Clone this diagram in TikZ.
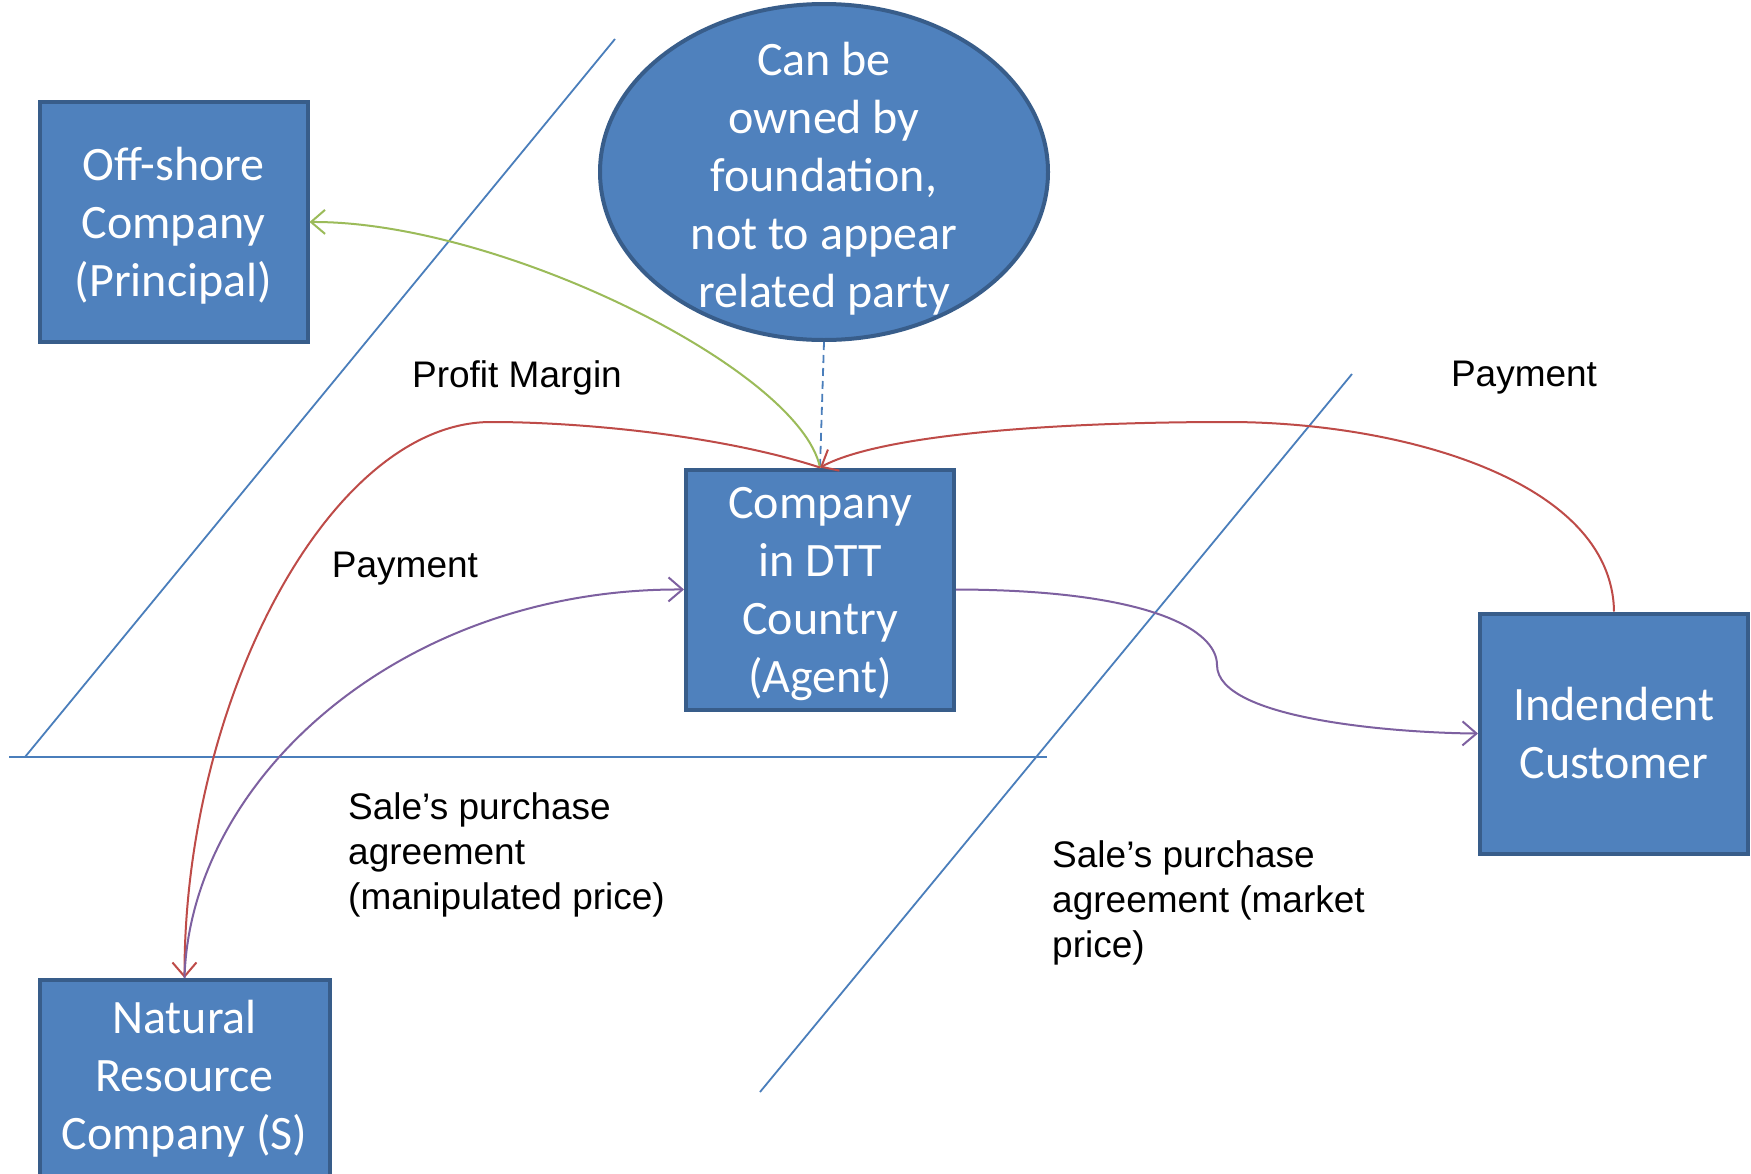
\documentclass[tikz,border=0pt]{standalone}
\usepackage{fontspec}
\setmainfont{Carlito}
\newfontfamily\labelfont{Liberation Sans}
\usepackage{tikz}
\usetikzlibrary{positioning,shapes.geometric,arrows.meta}
\definecolor{boxblue}{HTML}{4F81BD}
\definecolor{boxedge}{HTML}{385D8A}
\definecolor{lineblue}{HTML}{4A7EBB}
\definecolor{flowred}{HTML}{BE4B48}
\definecolor{flowpurple}{HTML}{7D60A0}
\definecolor{flowgreen}{HTML}{9BBB59}

\begin{document}
\begin{tikzpicture}[
    x=1pt, y=-1pt,
    party/.style={rectangle, draw=boxedge, line width=4pt, fill=boxblue, minimum width=268pt, minimum height=240pt, inner sep=0pt, align=center, text=white, font=\fontsize{48}{58}\selectfont},
    owner/.style={ellipse, draw=boxedge, line width=4pt, fill=boxblue, minimum width=448pt, minimum height=336pt, inner sep=0pt},
    ownertext/.style={inner sep=0pt, align=center, text=white, font=\fontsize{48}{58}\selectfont},
    note/.style={inner sep=0pt, align=left, font=\labelfont\fontsize{37}{45}\selectfont},
    border/.style={lineblue, line width=1.8pt},
    flow/.style={line width=2pt, -{Straight Barb[length=14pt,width=24pt]}}
]
\useasboundingbox[fill=white] (0,0) rectangle (1751,1173);

% Borders between the countries
\draw[border] (615,39) -- (25,757);
\draw[border] (9,757) -- (1047,757);
\draw[border] (1352,374) -- (760,1092);

% Parties
\node[owner, label={[ownertext, yshift=-7pt]center:{Can be\\owned by\\foundation,\\not to appear\\related party}}] (foundation) at (824,172) {};
\node[party, text depth=-4pt] (offshore) at (173.5,222) {Off-shore\\Company\\(Principal)};
\node[party, text depth=-5pt] (agent) at (820,589.5) {Company\\in DTT\\Country\\(Agent)};
\node[party] (customer) at (1614,733.5) {Indendent\\Customer};
\node[party, minimum width=290pt, minimum height=198pt] (resource) at (184.5,1079) {Natural\\Resource\\Company (S)};

% Labels
\node[note] (margin) at (517,378) {Profit Margin};
\node[note] (payright) at (1524,378) {Payment};
\node[note] (payleft) at (405,569) {Payment};
\node[note, anchor=west] (saleleft) at (348,855) {Sale’s purchase\\agreement\\(manipulated price)};
\node[note, anchor=west] (saleright) at (1052,903) {Sale’s purchase\\agreement (market\\price)};

% Flows
\draw[lineblue, line width=1.8pt, dash pattern=on 8pt off 5pt] (foundation.south) -- (agent.north);
\draw[flow, flowgreen] (agent.north) .. controls (800,370) and (500,221) .. (offshore.east);
\draw[flow, flowred] (customer.north) .. controls (1612,480) and (1400,422) .. (1228,422)
    .. controls (1050,422) and (880,435) .. (agent.north);
\draw[flow, flowred] (agent.north) .. controls (720,435) and (580,422) .. (491,422)
    .. controls (330,422) and (184,700) .. (resource.north);
\draw[flow, flowpurple] (resource.north) .. controls (190,780) and (400,588) .. (agent.west);
\draw[flow, flowpurple] (agent.east) .. controls (1150,590) and (1217,630) .. (1217,665)
    .. controls (1217,720) and (1400,733) .. (customer.west);

\end{tikzpicture}
\end{document}
